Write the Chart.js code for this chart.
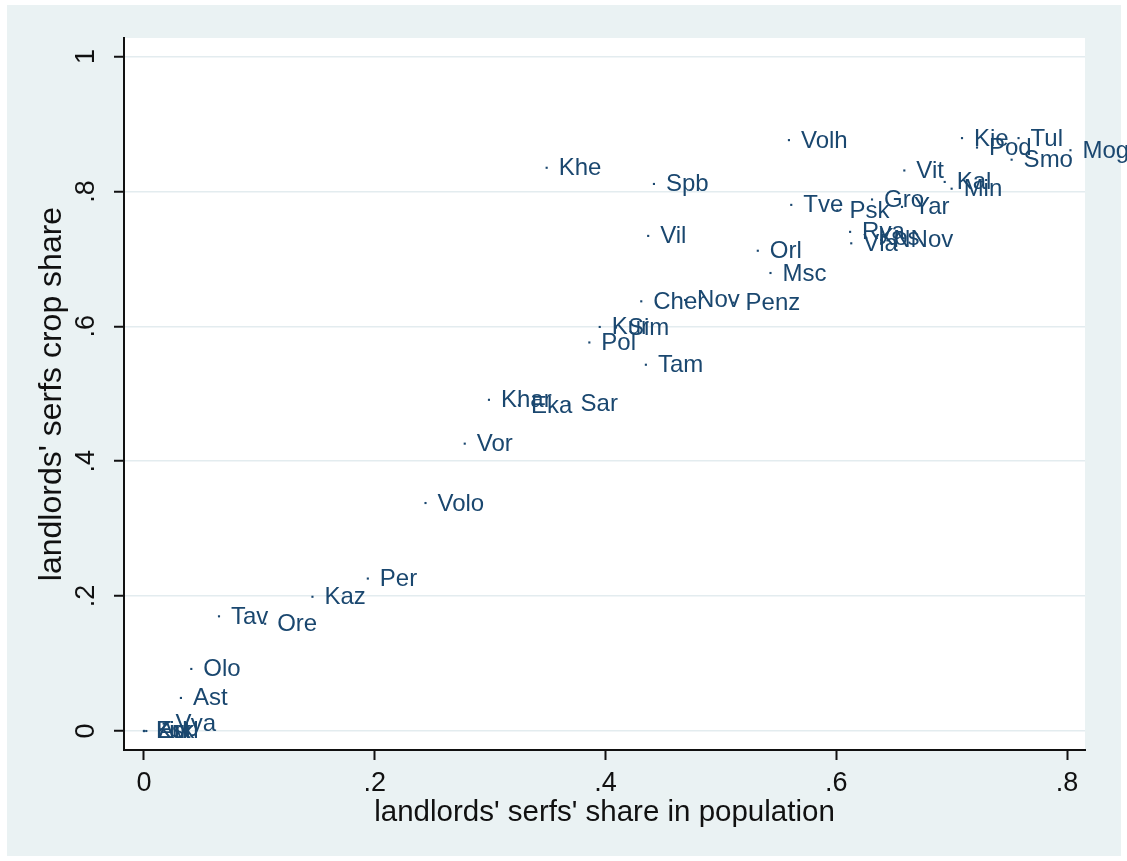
<!DOCTYPE html>
<html>
<head>
<meta charset="utf-8">
<script src="https://cdn.jsdelivr.net/npm/chart.js@4.4.1/dist/chart.umd.min.js"></script>
<style>
  html, body { margin: 0; padding: 0; background: #ffffff; }
  #wrap { width: 1127px; height: 861px; position: relative; }
</style>
</head>
<body>
<div id="wrap"><canvas id="c" width="1127" height="861"></canvas></div>
<script>
// Province abbreviations and their values
const provinces = [
  'Khe', 'Spb', 'Vil', 'Volh', 'Kie', 'Tul', 'Pod', 'Smo', 'Mog', 'Vit',
  'Kal', 'Min', 'Tve', 'Psk', 'Gro', 'Yar', 'Rya', 'Vla', 'Kos', 'NNov',
  'Orl', 'Msc', 'Cher', 'Nov', 'Penz', 'Kur', 'Sim', 'Pol', 'Tam', 'Khar',
  'Eka', 'Sar', 'Vor', 'Volo', 'Per', 'Kaz', 'Tav', 'Ore', 'Olo', 'Ast',
  'Vya', 'Ark', 'Est', 'Liv', 'Kurl'
];
// landlords' serfs' share in population
const serfShare = [
  0.349, 0.442, 0.437, 0.559, 0.709, 0.758, 0.722, 0.752, 0.803, 0.659,
  0.694, 0.700, 0.561, 0.601, 0.631, 0.657, 0.612, 0.613, 0.626, 0.639,
  0.532, 0.543, 0.431, 0.469, 0.511, 0.395, 0.409, 0.386, 0.435, 0.299,
  0.325, 0.368, 0.278, 0.244, 0.194, 0.146, 0.065, 0.105, 0.041, 0.032,
  0.017, 0.002, 0.000, 0.000, 0.000
];
// landlords' serfs crop share
const cropShare = [
  0.835, 0.811, 0.734, 0.876, 0.879, 0.879, 0.865, 0.847, 0.861, 0.831,
  0.814, 0.804, 0.780, 0.772, 0.788, 0.777, 0.740, 0.723, 0.731, 0.728,
  0.712, 0.679, 0.637, 0.639, 0.635, 0.599, 0.598, 0.576, 0.543, 0.491,
  0.483, 0.485, 0.426, 0.338, 0.226, 0.199, 0.170, 0.159, 0.092, 0.049,
  0.011, 0.000, 0.000, 0.000, 0.000
];
const xTicks = [0, 0.2, 0.4, 0.6, 0.8];
const xTickLabels = ['0', '.2', '.4', '.6', '.8'];
const yTicks = [0, 0.2, 0.4, 0.6, 0.8, 1];
const yTickLabels = ['0', '.2', '.4', '.6', '.8', '1'];

const NAVY = '#1a476f';
const FONT = '"Liberation Sans", Arial, sans-serif';

// Graph region colours: white page, bluish-gray graph area, white plot area
const backdrop = {
  id: 'backdrop',
  beforeDraw(chart) {
    const { ctx, chartArea: a } = chart;
    ctx.save();
    ctx.fillStyle = '#ffffff';
    ctx.fillRect(0, 0, chart.width, chart.height);
    ctx.fillStyle = '#eaf2f3';
    ctx.fillRect(7, 5, 1114, 851);
    ctx.fillStyle = '#ffffff';
    ctx.fillRect(a.left, a.top, a.right - a.left, a.bottom - a.top);
    ctx.restore();
  }
};

// Marker labels to the right of each point
const markerLabels = {
  id: 'markerLabels',
  afterDatasetsDraw(chart) {
    const { ctx } = chart;
    const meta = chart.getDatasetMeta(0);
    ctx.save();
    ctx.font = '24px ' + FONT;
    ctx.fillStyle = NAVY;
    ctx.textAlign = 'left';
    ctx.textBaseline = 'alphabetic';
    meta.data.forEach((pt, i) => {
      ctx.fillText(provinces[i], pt.x + 12, pt.y + 7.5);
    });
    ctx.restore();
  }
};

// Vertical-axis tick labels, rotated to read bottom-to-top
const yTickText = {
  id: 'yTickText',
  afterDraw(chart) {
    const { ctx } = chart;
    const ys = chart.scales.y;
    ctx.save();
    ctx.font = '27px ' + FONT;
    ctx.fillStyle = '#111111';
    ctx.textAlign = 'center';
    ctx.textBaseline = 'middle';
    yTicks.forEach((v, i) => {
      const py = ys.getPixelForValue(v);
      ctx.save();
      ctx.translate(87, py);
      ctx.rotate(-Math.PI / 2);
      ctx.fillText(yTickLabels[i], 0, 0);
      ctx.restore();
    });
    ctx.restore();
  }
};

const points = serfShare.map((x, i) => ({ x, y: cropShare[i] }));

new Chart(document.getElementById('c'), {
  type: 'scatter',
  data: {
    datasets: [{
      data: points,
      pointStyle: 'rect',
      pointRadius: 1.5,
      pointHoverRadius: 1.5,
      backgroundColor: NAVY,
      borderWidth: 0,
      clip: false
    }]
  },
  options: {
    responsive: false,
    animation: false,
    devicePixelRatio: 1,
    events: [],
    layout: { padding: { left: 0, top: 38, right: 42, bottom: 0 } },
    plugins: { legend: { display: false }, tooltip: { enabled: false } },
    scales: {
      x: {
        type: 'linear',
        min: -0.01733,
        max: 0.8156,
        afterBuildTicks: s => { s.ticks = xTicks.map(v => ({ value: v })); },
        afterFit: s => { s.height = 111; },
        grid: {
          drawOnChartArea: false,
          drawTicks: true,
          tickLength: 10,
          tickWidth: 2,
          tickColor: '#111111'
        },
        border: { display: true, color: '#111111', width: 2 },
        ticks: {
          autoSkip: false,
          maxRotation: 0,
          padding: 7,
          color: '#111111',
          font: { family: FONT, size: 27 },
          callback: (v) => xTickLabels[xTicks.indexOf(v)]
        },
        title: {
          display: true,
          text: "landlords' serfs' share in population",
          color: '#111111',
          font: { family: FONT, size: 29.5 },
          padding: { top: 0, bottom: 30.5 }
        }
      },
      y: {
        type: 'linear',
        min: -0.02817,
        max: 1.0274,
        afterBuildTicks: s => { s.ticks = yTicks.map(v => ({ value: v })); },
        afterFit: s => { s.width = 124; },
        grid: {
          drawOnChartArea: true,
          color: '#e3ecef',
          lineWidth: 1.5,
          drawTicks: true,
          tickLength: 10,
          tickWidth: 2,
          tickColor: '#111111'
        },
        border: { display: true, color: '#111111', width: 2 },
        ticks: { display: false },
        title: {
          display: true,
          text: "landlords' serfs crop share",
          color: '#111111',
          font: { family: FONT, size: 32 },
          padding: { top: 33, bottom: 0 }
        }
      }
    }
  },
  plugins: [backdrop, markerLabels, yTickText]
});
</script>
</body>
</html>
